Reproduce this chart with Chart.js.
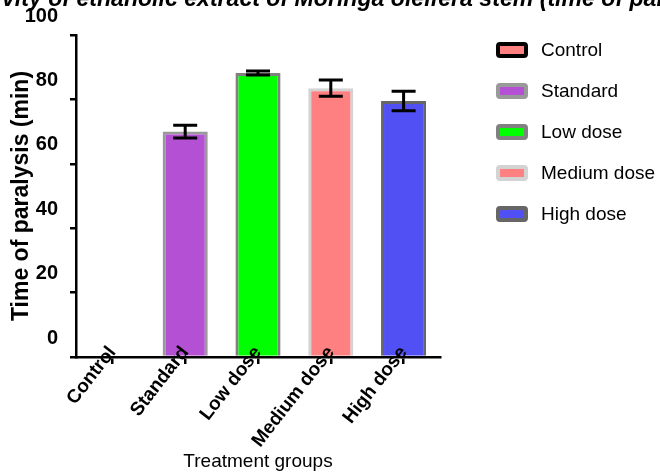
<!DOCTYPE html>
<html>
<head>
<meta charset="utf-8">
<script src="https://cdn.jsdelivr.net/npm/chart.js@4"></script>
<style>
  html, body { margin: 0; padding: 0; background: #fff; }
  #wrap { width: 660px; height: 476px; position: relative; }
</style>
</head>
<body>
<div id="wrap"><canvas id="c" width="660" height="476"></canvas></div>
<script>
const categories = ['Control', 'Standard', 'Low dose', 'Medium dose', 'High dose'];
const paralysisTime = [0, 70, 88.2, 83.5, 79.5];
const paralysisSEM = [0, 2, 0.6, 2.5, 3];
const yTickValues = [0, 20, 40, 60, 80, 100];
const fillColors = ['#ff8080', '#b450d4', '#00ff00', '#ff8080', '#5050f5'];
const borderColors = ['#000000', '#999999', '#808080', '#d3d3d3', '#666666'];
const titleText = 'Anthelmintic activity of ethanolic extract of Moringa oleifera stem (time of paralysis)';
const titleHiddenPrefix = 'Anthelmintic acti';
const titleVisiblePart = 'vity of ethanolic extract of Moringa oleifera stem (time of pa';

const ARIAL = '"Liberation Sans", Arial, sans-serif';

const errorBars = {
  id: 'errorBars',
  afterDatasetsDraw(chart) {
    const ctx = chart.ctx;
    const meta = chart.getDatasetMeta(0);
    const ys = chart.scales.y;
    ctx.save();
    ctx.strokeStyle = '#000';
    ctx.lineWidth = 3;
    meta.data.forEach((bar, i) => {
      const v = paralysisTime[i], e = paralysisSEM[i];
      if (!v) return;
      const top = ys.getPixelForValue(v + e);
      const bot = ys.getPixelForValue(v - e);
      const x = bar.x, cap = 12;
      ctx.beginPath();
      ctx.moveTo(x, top); ctx.lineTo(x, bot);
      ctx.moveTo(x - cap, top); ctx.lineTo(x + cap, top);
      ctx.moveTo(x - cap, bot); ctx.lineTo(x + cap, bot);
      ctx.stroke();
    });
    ctx.restore();
  }
};

const cutTitle = {
  id: 'cutTitle',
  afterDraw(chart) {
    const ctx = chart.ctx;
    ctx.save();
    ctx.font = 'italic bold 20px ' + ARIAL;
    const scale = 655 / ctx.measureText(titleVisiblePart).width;
    const size = 20 * scale;
    ctx.font = 'italic bold ' + size.toFixed(1) + 'px ' + ARIAL;
    ctx.fillStyle = '#000';
    ctx.textBaseline = 'alphabetic';
    const off = ctx.measureText(titleHiddenPrefix).width;
    ctx.fillText(titleText, -off + 2, 6);
    ctx.restore();
  }
};

// Legend drawn at the right, outside the plot area
const sideLegend = {
  id: 'sideLegend',
  afterDraw(chart) {
    const ctx = chart.ctx;
    const boxX = chart.chartArea.right + 58;
    const textX = boxX + 43;
    const firstY = 50;
    const step = 41;
    ctx.save();
    ctx.font = '19px ' + ARIAL;
    ctx.textBaseline = 'middle';
    ctx.textAlign = 'left';
    categories.forEach((c, i) => {
      const cy = firstY + i * step;
      ctx.beginPath();
      ctx.roundRect(boxX, cy - 6, 28, 12, 2);
      ctx.fillStyle = fillColors[i];
      ctx.fill();
      ctx.lineWidth = 4;
      ctx.strokeStyle = borderColors[i];
      ctx.stroke();
      ctx.fillStyle = '#000';
      ctx.fillText(c, textX, cy + 1);
    });
    ctx.restore();
  }
};

new Chart(document.getElementById('c'), {
  type: 'bar',
  data: {
    labels: categories,
    datasets: [{
      label: 'Time of paralysis',
      data: paralysisTime,
      backgroundColor: fillColors,
      borderColor: borderColors,
      borderWidth: 3,
      borderSkipped: 'bottom',
      categoryPercentage: 1.0,
      barPercentage: 0.62
    }]
  },
  options: {
    responsive: false,
    animation: false,
    devicePixelRatio: 1,
    layout: { padding: { top: 35, right: 220, left: 0, bottom: 0 } },
    plugins: {
      title: { display: false },
      tooltip: { enabled: false },
      legend: { display: false }
    },
    scales: {
      x: {
        border: { color: '#000', width: 2.5, z: 1 },
        grid: { display: true, drawOnChartArea: false, color: '#000', lineWidth: 2.5, tickLength: 7, offset: false },
        ticks: {
          z: 1,
          color: '#000',
          autoSkip: false,
          minRotation: 52,
          maxRotation: 52,
          padding: -22,
          font: { family: ARIAL, size: 19, weight: 'bold' }
        },
        title: {
          display: true,
          text: 'Treatment groups',
          color: '#000',
          font: { family: ARIAL, size: 19 },
          padding: { top: 0, bottom: 3 }
        },
        afterFit(scale) {
          scale.height = 119;
          scale._computeLabelArea = () => undefined;
        }
      },
      y: {
        min: 0,
        max: 100,
        border: { color: '#000', width: 2.5 },
        grid: { display: true, drawOnChartArea: false, color: '#000', lineWidth: 2.5, tickLength: 6 },
        afterBuildTicks(scale) { scale.ticks = yTickValues.map(v => ({ value: v })); },
        ticks: {
          color: '#000',
          padding: 12,
          labelOffset: -19,
          font: { family: ARIAL, size: 20, weight: 'bold' }
        },
        title: {
          display: true,
          text: 'Time of paralysis (min)',
          color: '#000',
          font: { family: ARIAL, size: 23, weight: 'bold' },
          padding: { top: 8, bottom: 0 }
        },
        afterFit(scale) { scale.width = 76; }
      }
    }
  },
  plugins: [errorBars, cutTitle, sideLegend]
});
</script>
</body>
</html>
